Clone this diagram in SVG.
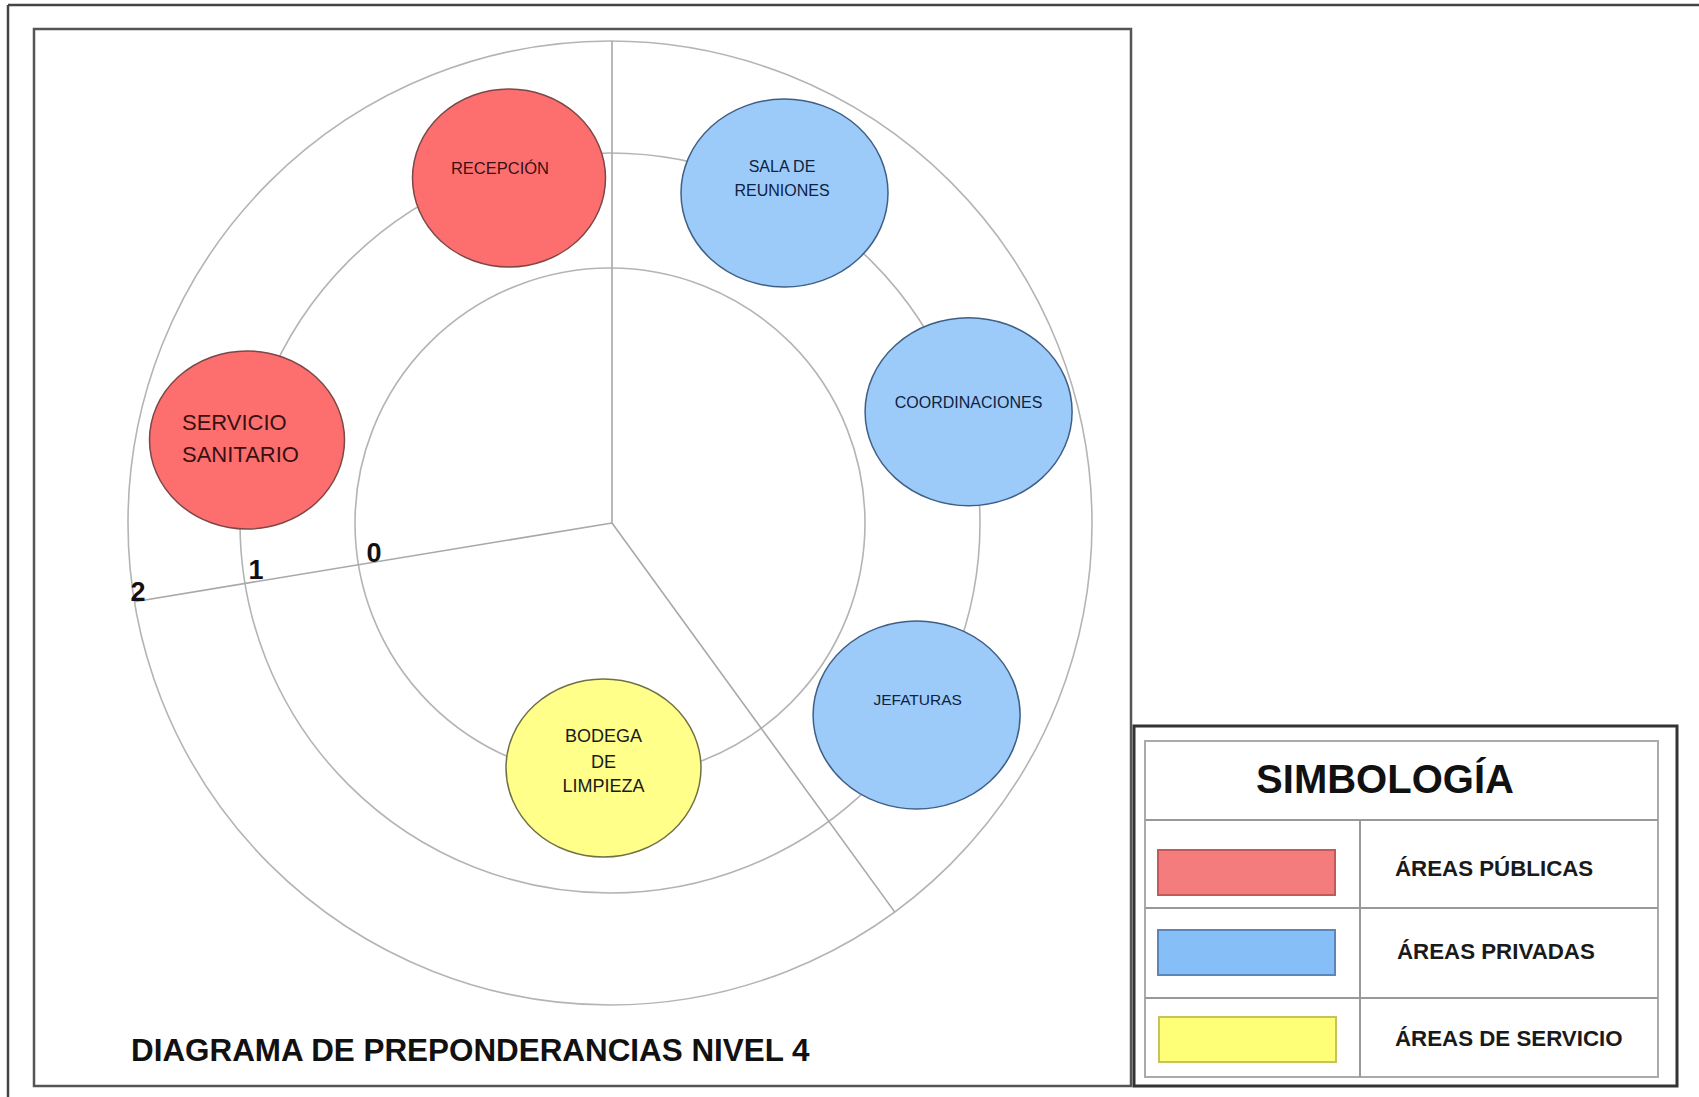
<svg xmlns="http://www.w3.org/2000/svg" width="1699" height="1097" viewBox="0 0 1699 1097">
<style>
.ring{fill:none;stroke:#b4b4b4;stroke-width:1.6}
.rad{stroke:#a8a8a8;stroke-width:1.6;fill:none}
.pub{fill:#fd6f6f;stroke:#7c4747;stroke-width:1.5}
.pri{fill:#9ccbfa;stroke:#3f5f85;stroke-width:1.5}
.ser{fill:#ffff8a;stroke:#707048;stroke-width:1.5}
.lbl{font-family:"Liberation Sans",Arial,sans-serif;text-anchor:middle}
.bl{fill:#0f2240}
.rd{fill:#3a1010}
.num{font-family:"Liberation Sans",Arial,sans-serif;font-weight:bold;font-size:27px;fill:#111;text-anchor:middle}
.leg{font-family:"Liberation Sans",Arial,sans-serif;font-weight:bold;font-size:22.3px;fill:#1a1a1a}
</style>
<rect width="1699" height="1097" fill="#fff"/>
<g id="frames">
<line x1="8" y1="5" x2="1699" y2="5" stroke="#444" stroke-width="2.5"/>
<line x1="8" y1="5" x2="8" y2="1097" stroke="#444" stroke-width="2.5"/>
<rect x="34" y="29" width="1097" height="1057" fill="none" stroke="#555" stroke-width="2.5"/>
</g>
<g id="rings">
<circle class="ring" cx="610" cy="523" r="255"/>
<circle class="ring" cx="610" cy="523" r="370"/>
<circle class="ring" cx="610" cy="523" r="482"/>
</g>
<g id="connectors">
<line class="rad" x1="612" y1="41" x2="612" y2="523"/>
<line class="rad" x1="612" y1="523" x2="134.5" y2="601.7"/>
<line class="rad" x1="612" y1="523" x2="894.7" y2="911.9"/>
</g>
<g id="scale-labels">
<text class="num" x="374" y="562">0</text>
<text class="num" x="256" y="579">1</text>
<text class="num" x="138" y="601">2</text>
</g>
<g id="node-recepcion">
<ellipse class="pub" cx="509" cy="178" rx="96.5" ry="89"/>
<text class="lbl rd" x="500" y="174" font-size="16.5">RECEPCIÓN</text>
</g>
<g id="node-sala">
<ellipse class="pri" cx="784.5" cy="193" rx="103.5" ry="94"/>
<text class="lbl bl" x="782" y="172" font-size="16">SALA DE</text>
<text class="lbl bl" x="782" y="196" font-size="16">REUNIONES</text>
</g>
<g id="node-coordinaciones">
<ellipse class="pri" cx="968.6" cy="411.7" rx="103.5" ry="94"/>
<text class="lbl bl" x="968.6" y="408" font-size="16">COORDINACIONES</text>
</g>
<g id="node-jefaturas">
<ellipse class="pri" cx="916.6" cy="715" rx="103.5" ry="94"/>
<text class="lbl bl" x="917.7" y="705" font-size="15.5">JEFATURAS</text>
</g>
<g id="node-servicio">
<ellipse class="pub" cx="247" cy="440" rx="97.5" ry="89"/>
<text class="rd" x="182" y="430" font-size="22" font-family="Liberation Sans, Arial, sans-serif">SERVICIO</text>
<text class="rd" x="182" y="462" font-size="22" font-family="Liberation Sans, Arial, sans-serif">SANITARIO</text>
</g>
<g id="node-bodega">
<ellipse class="ser" cx="603.5" cy="768" rx="97.5" ry="89"/>
<text class="lbl" x="603.5" y="742" font-size="18" fill="#1a1a1a">BODEGA</text>
<text class="lbl" x="603.5" y="768" font-size="18" fill="#1a1a1a">DE</text>
<text class="lbl" x="603.5" y="792" font-size="18" fill="#1a1a1a">LIMPIEZA</text>
</g>
<g id="title">
<text x="131" y="1061" font-family="Liberation Sans, Arial, sans-serif" font-weight="bold" font-size="31.4" fill="#111">DIAGRAMA DE PREPONDERANCIAS NIVEL 4</text>
</g>
<g id="legend">
<rect x="1134" y="726" width="543" height="360" fill="#fff" stroke="#333" stroke-width="3"/>
<rect x="1145" y="741" width="513" height="336" fill="none" stroke="#aaa" stroke-width="2"/>
<line x1="1145" y1="820" x2="1658" y2="820" stroke="#999" stroke-width="2"/>
<line x1="1145" y1="908" x2="1658" y2="908" stroke="#999" stroke-width="2"/>
<line x1="1145" y1="998" x2="1658" y2="998" stroke="#999" stroke-width="2"/>
<line x1="1360" y1="820" x2="1360" y2="1077" stroke="#999" stroke-width="2"/>
<text x="1385" y="793" font-family="Liberation Sans, Arial, sans-serif" font-weight="bold" font-size="40" fill="#111" text-anchor="middle">SIMBOLOGÍA</text>
<rect x="1158" y="850" width="177" height="45" fill="#f47c7c" stroke="#c25a5a" stroke-width="2"/>
<rect x="1158" y="930" width="177" height="45" fill="#86bff7" stroke="#5a86b8" stroke-width="2"/>
<rect x="1159" y="1017" width="177" height="45" fill="#ffff77" stroke="#c4c45a" stroke-width="2"/>
<text class="leg" x="1395" y="876">ÁREAS PÚBLICAS</text>
<text class="leg" x="1397" y="959">ÁREAS PRIVADAS</text>
<text class="leg" x="1395" y="1046">ÁREAS DE SERVICIO</text>
</g>
</svg>
